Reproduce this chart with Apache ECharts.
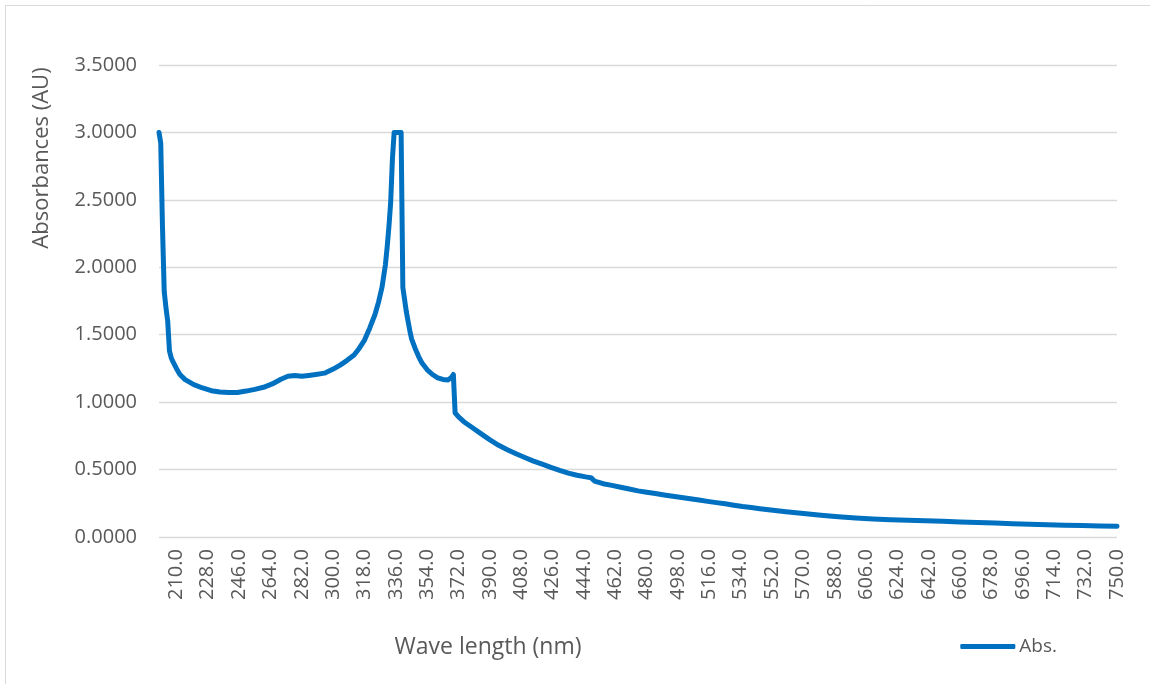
<!DOCTYPE html>
<html>
<head>
<meta charset="utf-8">
<script src="https://cdn.jsdelivr.net/npm/echarts@6/dist/echarts.min.js"></script>
<style>
  html, body { margin: 0; padding: 0; background: #fff; }
  #chart { width: 1150px; height: 684px; }
</style>
</head>
<body>
<div id="chart"></div>
<script>
// wavelength (nm) and absorbance
const wavelengths = [
  200, 201, 202, 203, 204, 205, 206, 207, 208, 210, 212, 215, 220, 225, 230, 235, 240, 245, 250, 255,
  260, 265, 270, 274, 278, 282, 286, 290, 295, 300, 304, 308, 312, 315, 318, 321, 324, 326, 328, 330,
  331, 332, 333, 334, 335, 336, 337, 338, 339, 340, 341, 342, 343, 344, 345, 347, 349, 351, 354, 357,
  360, 363, 366, 368, 369, 370, 372, 375, 380, 385, 390, 395, 400, 405, 410, 415, 420, 425, 430, 435,
  440, 445, 448, 450, 455, 460, 465, 470, 475, 480, 485, 490, 495, 500, 505, 510, 515, 520, 525, 530,
  535, 540, 545, 550, 555, 560, 570, 580, 590, 600, 610, 620, 630, 640, 650, 660, 670, 680, 690, 700,
  710, 720, 730, 740, 750
];
const absorbance = [
  3.000, 2.920, 2.300, 1.820, 1.700, 1.600, 1.380, 1.330, 1.300, 1.250, 1.205, 1.167, 1.130, 1.105, 1.085, 1.075, 1.072, 1.072, 1.082, 1.095,
  1.110, 1.135, 1.170, 1.192, 1.198, 1.192, 1.198, 1.205, 1.215, 1.245, 1.275, 1.310, 1.350, 1.400, 1.460, 1.550, 1.650, 1.740, 1.850, 2.020,
  2.150, 2.300, 2.480, 2.800, 3.000, 3.000, 3.000, 3.000, 3.000, 1.850, 1.760, 1.670, 1.600, 1.530, 1.470, 1.400, 1.340, 1.290, 1.240, 1.205,
  1.180, 1.168, 1.165, 1.185, 1.205, 0.920, 0.890, 0.855, 0.810, 0.765, 0.720, 0.680, 0.647, 0.617, 0.590, 0.563, 0.540, 0.516, 0.494, 0.474,
  0.458, 0.446, 0.440, 0.415, 0.395, 0.383, 0.369, 0.356, 0.342, 0.332, 0.323, 0.312, 0.302, 0.293, 0.283, 0.274, 0.264, 0.255, 0.246, 0.236,
  0.226, 0.218, 0.210, 0.202, 0.195, 0.188, 0.174, 0.161, 0.150, 0.141, 0.134, 0.128, 0.124, 0.120, 0.116, 0.112, 0.107, 0.103, 0.099, 0.095,
  0.091, 0.087, 0.085, 0.082, 0.079
];
// x tick labels shown under the axis
const xTicks = [
  210, 228, 246, 264, 282, 300, 318, 336, 354, 372, 390, 408, 426, 444, 462, 480,
  498, 516, 534, 552, 570, 588, 606, 624, 642, 660, 678, 696, 714, 732, 750
];

const FONT = '"Open Sans", "Noto Sans", sans-serif';
const TEXT = '#595959';

const chart = echarts.init(document.getElementById('chart'));
const option = {
  backgroundColor: '#fff',
  animation: false,
  grid: { left: 159, right: 33, top: 65, bottom: 147 },
  legend: {
    data: ['Abs.'],
    right: 88,
    top: 632,
    itemWidth: 55,
    itemHeight: 5,
    itemGap: 5,
    icon: 'roundRect',
    textStyle: { color: TEXT, fontSize: 19, fontFamily: FONT, padding: [0, 0, 0, -1] }
  },
  graphic: [
    {
      type: 'rect',
      shape: { x: 5.5, y: 5.5, width: 1160, height: 700 },
      style: { fill: 'none', stroke: '#d9d9d9', lineWidth: 1 },
      silent: true
    },
    {
      type: 'text',
      x: 42, y: 158,
      rotation: Math.PI / 2,
      style: {
        text: 'Absorbances (AU)', fill: TEXT, fontSize: 22, fontFamily: FONT,
        align: 'center', verticalAlign: 'middle'
      }
    },
    {
      type: 'text',
      x: 488, y: 647,
      style: {
        text: 'Wave length (nm)', fill: TEXT, fontSize: 23, fontFamily: FONT,
        align: 'center', verticalAlign: 'middle'
      }
    }
  ],
  xAxis: {
    type: 'value',
    min: 200,
    max: 750,
    axisLine: { show: false },
    axisTick: { show: false },
    splitLine: { show: false },
    axisLabel: {
      customValues: xTicks,
      rotate: 90,
      margin: 12,
      color: TEXT,
      fontSize: 20,
      fontFamily: FONT,
      formatter: v => v.toFixed(1)
    }
  },
  yAxis: {
    type: 'value',
    min: 0,
    max: 3.5,
    interval: 0.5,
    axisLine: { show: false },
    axisTick: { show: false },
    splitLine: { lineStyle: { color: '#d9d9d9', width: 1.3 } },
    axisLabel: {
      margin: 22,
      color: TEXT,
      fontSize: 20,
      fontFamily: FONT,
      formatter: v => v.toFixed(4)
    }
  },
  series: [
    {
      name: 'Abs.',
      type: 'line',
      data: wavelengths.map((w, i) => [w, absorbance[i]]),
      showSymbol: false,
      color: '#0070C0',
      lineStyle: { width: 5, cap: 'round', join: 'round' }
    }
  ]
};
chart.setOption(option);
window.addEventListener('resize', () => chart.resize());
</script>
</body>
</html>
